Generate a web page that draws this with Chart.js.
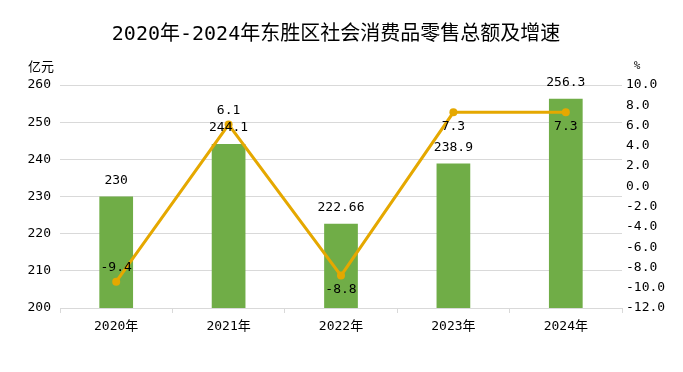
<!DOCTYPE html>
<html><head><meta charset="utf-8">
<script src="https://cdn.jsdelivr.net/npm/chart.js@4.4.1/dist/chart.umd.min.js"></script>
<style>html,body{margin:0;padding:0;background:#fff;}canvas{display:block;}</style>
</head><body>
<canvas id="c" width="683" height="372"></canvas>
<script>
const titleText = '2020年-2024年东胜区社会消费品零售总额及增速';
const categories = ['2020年', '2021年', '2022年', '2023年', '2024年'];
const salesValues = [230, 244.1, 222.66, 238.9, 256.3];
const growthRates = [-9.4, 6.1, -8.8, 7.3, 7.3];
const leftTicks = [200, 210, 220, 230, 240, 250, 260];
const rightTicks = [-12, -10, -8, -6, -4, -2, 0, 2, 4, 6, 8, 10];
const leftUnit = '亿元';
const rightUnit = '%';

const NUM_FONT = "'DejaVu Sans Mono','Noto Sans CJK SC',sans-serif";
const BAR_COLOR = '#70AD47';
const LINE_COLOR = '#E5A800';
const GRID_COLOR = '#D9D9D9';
const LINE_LABEL_SIDE = ['above', 'above', 'below', 'below', 'below'];

const labelPlugin = {
  id: 'customLabels',
  afterDatasetsDraw(chart) {
    const ctx = chart.ctx;
    ctx.save();
    ctx.font = '13px ' + NUM_FONT;
    ctx.fillStyle = '#000';
    ctx.textAlign = 'center';
    ctx.textBaseline = 'middle';
    chart.getDatasetMeta(0).data.forEach((el, i) => {
      ctx.fillText(String(salesValues[i]), el.x, el.y - 16);
    });
    chart.getDatasetMeta(1).data.forEach((el, i) => {
      const above = LINE_LABEL_SIDE[i] === 'above';
      ctx.fillText(String(growthRates[i]), el.x, el.y + (above ? -14 : 14));
    });
    ctx.restore();
  },
  afterDraw(chart) {
    const ctx = chart.ctx;
    const area = chart.chartArea;
    ctx.save();
    ctx.fillStyle = '#000';
    ctx.textBaseline = 'middle';
    ctx.textAlign = 'center';
    ctx.font = "20px 'DejaVu Sans Mono','Noto Sans CJK SC',sans-serif";
    ctx.fillText(titleText, 336, 35);
    ctx.font = "13px 'Noto Sans CJK SC',sans-serif";
    ctx.textAlign = 'left';
    ctx.fillText(leftUnit, 28, 66);
    ctx.textAlign = 'center';
    ctx.font = "11px " + NUM_FONT;
    ctx.fillText(rightUnit, area.right + 15, 66);
    ctx.restore();
  }
};

new Chart(document.getElementById('c'), {
  data: {
    labels: categories,
    datasets: [
      {
        type: 'bar',
        data: salesValues,
        yAxisID: 'y',
        backgroundColor: BAR_COLOR,
        barPercentage: 0.3,
        categoryPercentage: 1.0,
        order: 1
      },
      {
        type: 'line',
        data: growthRates,
        yAxisID: 'y1',
        borderColor: LINE_COLOR,
        backgroundColor: LINE_COLOR,
        borderWidth: 3,
        pointRadius: 4,
        pointBackgroundColor: LINE_COLOR,
        pointBorderWidth: 0,
        tension: 0,
        order: 0
      }
    ]
  },
  options: {
    responsive: false,
    devicePixelRatio: 1,
    animation: false,
    layout: { padding: { top: 85, left: 0, right: 0, bottom: 0 } },
    plugins: { legend: { display: false }, tooltip: { enabled: false }, title: { display: false } },
    scales: {
      x: {
        grid: { offset: true, drawOnChartArea: false, drawTicks: true, tickLength: 5, color: GRID_COLOR },
        border: { display: true, color: GRID_COLOR },
        ticks: { color: '#000', padding: 6, font: { size: 13, family: NUM_FONT } },
        afterFit(s) { s.height = 64; }
      },
      y: {
        position: 'left',
        min: leftTicks[0],
        max: leftTicks[leftTicks.length - 1],
        afterBuildTicks(s) { s.ticks = leftTicks.map(v => ({ value: v })); },
        grid: { color: GRID_COLOR, drawTicks: false },
        border: { display: false },
        ticks: { color: '#000', padding: 9, font: { size: 13, family: NUM_FONT } },
        afterFit(s) { s.width = 60; }
      },
      y1: {
        position: 'right',
        min: rightTicks[0],
        max: rightTicks[rightTicks.length - 1],
        afterBuildTicks(s) { s.ticks = rightTicks.map(v => ({ value: v })); },
        grid: { display: false, drawTicks: false },
        border: { display: false },
        ticks: { color: '#000', padding: 4, font: { size: 13, family: NUM_FONT }, callback: v => Number(v).toFixed(1) },
        afterFit(s) { s.width = 61; }
      }
    }
  },
  plugins: [labelPlugin]
});
</script>
</body></html>
